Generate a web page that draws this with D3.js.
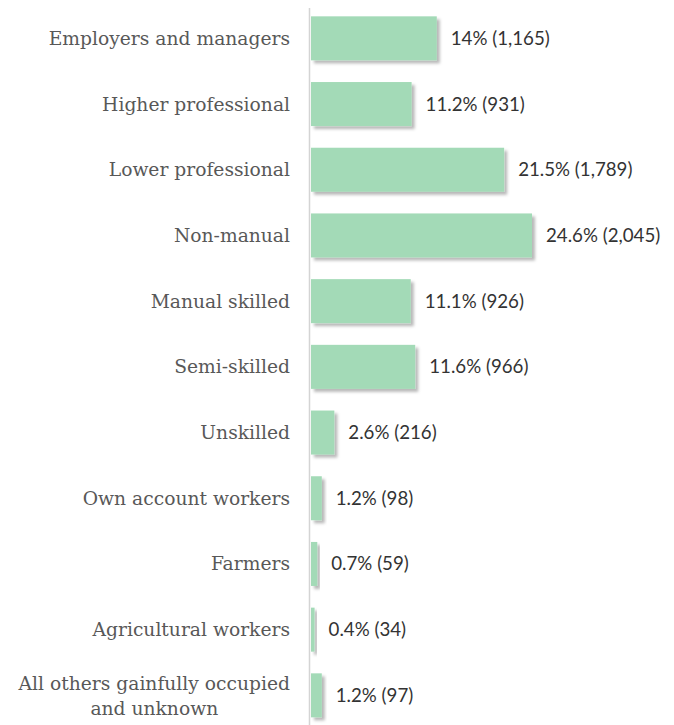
<!DOCTYPE html>
<html>
<head>
<meta charset="utf-8">
<script src="https://cdn.jsdelivr.net/npm/d3@7"></script>
<style>
  body { margin: 0; background: #fff; }
</style>
</head>
<body>
<div id="chart"></div>
<script>
// categories, shares (%) and counts
const categories = [
  "Employers and managers",
  "Higher professional",
  "Lower professional",
  "Non-manual",
  "Manual skilled",
  "Semi-skilled",
  "Unskilled",
  "Own account workers",
  "Farmers",
  "Agricultural workers",
  "All others gainfully occupied|and unknown"
];
const shares = [14, 11.2, 21.5, 24.6, 11.1, 11.6, 2.6, 1.2, 0.7, 0.4, 1.2];
const counts = [1165, 931, 1789, 2045, 926, 966, 216, 98, 59, 34, 97];

const data = categories.map((c, i) => ({cat: c, share: shares[i], count: counts[i]}));

const width = 674, height = 725;
const x0 = 311;

const svg = d3.select("#chart")
  .append("svg")
    .attr("width", width)
    .attr("height", height);

// soft drop shadow under each bar
const defs = svg.append("defs");
const f = defs.append("filter")
    .attr("id", "shadow")
    .attr("x", "-20%").attr("y", "-20%")
    .attr("width", "160%").attr("height", "160%");
f.append("feDropShadow")
    .attr("dx", 3).attr("dy", 3)
    .attr("stdDeviation", 1.8)
    .attr("flood-color", "#000")
    .attr("flood-opacity", 0.28);

const x = d3.scaleLinear()
    .domain([0, 24.6])
    .range([x0, 532]);

const y = d3.scaleBand()
    .domain(data.map(d => d.cat))
    .range([5.5, 728.2])
    .paddingInner(0.33)
    .paddingOuter(0.165);

// bars
svg.append("g")
  .selectAll("rect")
  .data(data)
  .join("rect")
    .attr("x", x(0))
    .attr("y", d => y(d.cat))
    .attr("width", d => x(d.share) - x(0))
    .attr("height", y.bandwidth())
    .attr("fill", "#a3dab7")
    .attr("filter", "url(#shadow)");

// vertical baseline
svg.append("line")
    .attr("x1", x0 - 1.5).attr("x2", x0 - 1.5)
    .attr("y1", 8).attr("y2", height)
    .attr("stroke", "#d4d4d4")
    .attr("stroke-width", 1.5);

// value labels
const fmt = d3.format(",");
svg.append("g")
  .selectAll("text")
  .data(data)
  .join("text")
    .attr("x", d => x(d.share) + 14)
    .attr("y", d => y(d.cat) + y.bandwidth() / 2)
    .attr("dy", "0.35em")
    .style("font-family", "Lato, sans-serif")
    .style("font-size", "18.7px")
    .attr("fill", "#333")
    .text(d => `${d.share}% (${fmt(d.count)})`);

// category labels
const labels = svg.append("g")
  .selectAll("text")
  .data(data)
  .join("text")
    .style("font-family", "'DejaVu Serif', serif")
    .style("font-size", "18.7px")
    .attr("fill", "#585858");

labels.each(function(d) {
  const t = d3.select(this);
  const lines = d.cat.split("|");
  const cy = y(d.cat) + y.bandwidth() / 2;
  if (lines.length === 1) {
    t.attr("x", 290).attr("y", cy).attr("dy", "0.35em")
      .attr("text-anchor", "end").text(lines[0]);
  } else {
    t.attr("text-anchor", "middle");
    const first = t.append("tspan").text(lines[0]);
    const w = first.node().getComputedTextLength();
    const cx = 290 - w / 2;
    first.attr("x", cx).attr("y", cy - 5);
    t.append("tspan").attr("x", cx).attr("y", cy + 19.5).text(lines[1]);
  }
});
</script>
</body>
</html>
